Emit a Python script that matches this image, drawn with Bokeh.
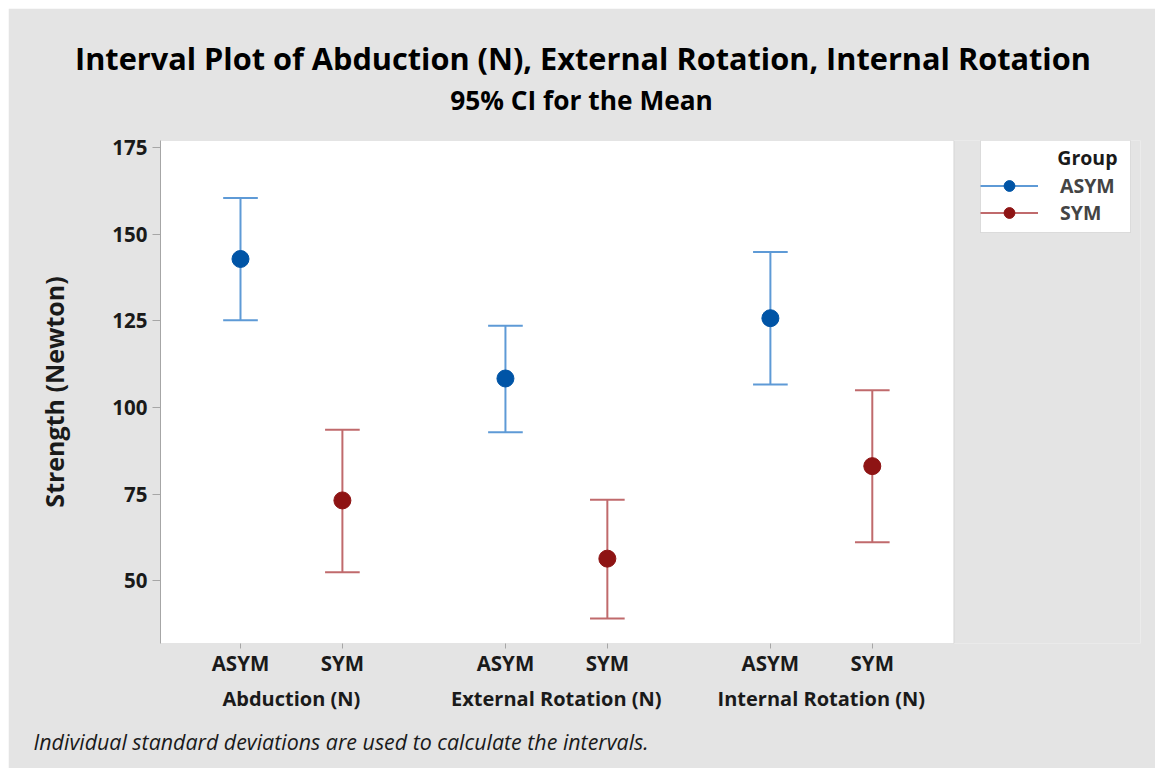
from bokeh.plotting import figure
from bokeh.models import (ColumnDataSource, FixedTicker, LinearAxis, Range1d, BoxAnnotation,
                          Title, Label, Legend, LegendItem, Spacer)
from bokeh.layouts import row, column
from bokeh.embed import file_html
from bokeh.resources import INLINE

# ---- data: 95% CI for the mean, per measure and group ----
measures = ["Abduction (N)", "External Rotation (N)", "Internal Rotation (N)"]
groups = ["ASYM", "SYM"]
asym_mean = [142.9, 108.4, 125.8]
asym_lower = [125.2, 92.9, 106.7]
asym_upper = [160.5, 123.6, 144.9]
sym_mean = [73.2, 56.4, 83.1]
sym_lower = [52.5, 39.1, 61.1]
sym_upper = [93.6, 73.4, 105.0]
y_ticks = [50, 75, 100, 125, 150, 175]

FONT = "Open Sans"
BG = "#e4e4e4"
GRID = "#a6a6a6"
INK = "#1a1a1a"

# x layout: two groups per measure, a wider gap between measures
STEP = 2.6
CAP = 0.17
X_MIN, X_MAX = -0.785, 7.0      # data area (white box)
X_END = 8.832                   # frame continues to the right to hold the legend
HEADER_X = -1.325               # "Group" row header, left of the data area
SUB_X = 3.347                   # centre of the subtitle
asym_x = [i * STEP for i in range(len(measures))]
sym_x = [i * STEP + 1 for i in range(len(measures))]
centers = [i * STEP + 0.5 for i in range(len(measures))]

W, H = 1147, 760
p = figure(width=W, height=H, x_range=Range1d(X_MIN, X_END), y_range=Range1d(31.9, 177.1),
           output_backend="svg", toolbar_location=None,
           min_border_left=152, min_border_right=15, min_border_top=132, min_border_bottom=125)
p.background_fill_color = BG
p.border_fill_color = BG
p.outline_line_color = None
p.xgrid.visible = False
p.ygrid.visible = False

# white data area with its outline
p.add_layout(BoxAnnotation(right=X_MAX, fill_color="white", fill_alpha=1,
                           line_color=GRID, line_width=1, level="underlay"))


def series(xs, lo, hi, mean, line_color, fill_color):
    src = ColumnDataSource(dict(x=xs, lo=lo, hi=hi, mean=mean,
                                x0=[v - CAP for v in xs], x1=[v + CAP for v in xs]))
    stem = p.segment(x0="x", y0="lo", x1="x", y1="hi", source=src,
                     line_color=line_color, line_width=2)
    p.segment(x0="x0", y0="lo", x1="x1", y1="lo", source=src, line_color=line_color, line_width=2)
    p.segment(x0="x0", y0="hi", x1="x1", y1="hi", source=src, line_color=line_color, line_width=2)
    dot = p.scatter(x="x", y="mean", source=src, size=17, marker="circle",
                    fill_color=fill_color, line_color=fill_color)
    return stem, dot


a_stem, a_dot = series(asym_x, asym_lower, asym_upper, asym_mean, "#5e9ad6", "#0054a6")
s_stem, s_dot = series(sym_x, sym_lower, sym_upper, sym_mean, "#c06a6c", "#8e1414")


def plain_axis(axis, size="20.5px", standoff=0):
    axis.major_label_text_font = FONT
    axis.major_label_text_font_style = "bold"
    axis.major_label_text_font_size = size
    axis.major_label_text_color = INK
    axis.minor_tick_line_color = None
    axis.axis_line_color = None
    axis.major_tick_line_color = None
    axis.major_tick_out = 0
    axis.major_tick_in = 0
    axis.major_label_standoff = standoff


# x ticks only (labels go on the next axis, which also carries the row header)
tax = p.xaxis[0]
tax.ticker = FixedTicker(ticks=asym_x + sym_x)
tax.major_label_overrides = {v: "" for v in asym_x + sym_x}
tax.major_label_text_font_size = "1px"
tax.major_label_standoff = 0
tax.minor_tick_line_color = None
tax.major_tick_out = 5
tax.major_tick_in = 0
tax.major_tick_line_color = GRID
tax.axis_line_color = None

lax = LinearAxis(ticker=FixedTicker(ticks=[HEADER_X] + asym_x + sym_x),
                 bounds=(HEADER_X - 0.2, X_MAX),
                 major_label_overrides={HEADER_X: "Group",
                                        **{v: groups[0] for v in asym_x},
                                        **{v: groups[1] for v in sym_x}})
plain_axis(lax)
p.add_layout(lax, "below")

gax = LinearAxis(ticker=FixedTicker(ticks=centers),
                 major_label_overrides={c: m for c, m in zip(centers, measures)})
plain_axis(gax, size="20px", standoff=5)
p.add_layout(gax, "below")

yax = p.yaxis[0]
yax.ticker = FixedTicker(ticks=y_ticks)
yax.major_label_text_font = FONT
yax.major_label_text_font_style = "bold"
yax.major_label_text_font_size = "20.5px"
yax.major_label_text_color = INK
yax.minor_tick_line_color = None
yax.major_tick_out = 8
yax.major_tick_in = 0
yax.major_tick_line_color = GRID
yax.axis_line_color = GRID
yax.major_label_standoff = 5
yax.axis_label = "Strength (Newton)"
yax.axis_label_text_font = FONT
yax.axis_label_text_font_style = "bold"
yax.axis_label_text_font_size = "25px"
yax.axis_label_text_color = INK
yax.axis_label_standoff = 38

# ---- titles and footnote ----
sax = LinearAxis(ticker=FixedTicker(ticks=[SUB_X]),
                 major_label_overrides={SUB_X: "95% CI for the Mean"})
plain_axis(sax, size="26.3px", standoff=23)
sax.major_label_text_color = "black"
p.add_layout(sax, "above")

p.add_layout(Title(text="Interval Plot of Abduction (N), External Rotation, Internal Rotation",
                   align="left", offset=-85.5, standoff=0, text_font=FONT,
                   text_font_style="bold", text_font_size="30.7px", text_color="black"), "above")
p.add_layout(Title(text="Individual standard deviations are used to calculate the intervals.",
                   align="left", offset=-127, standoff=20, text_font=FONT,
                   text_font_style="italic", text_font_size="21.4px", text_color=INK), "below")

# ---- legend (frame-relative screen units) ----
LEG_L, LEG_R, LEG_B, LEG_T = 820, 970, 411, 503
p.add_layout(BoxAnnotation(left=LEG_L, right=LEG_R, bottom=LEG_B, top=LEG_T,
                           left_units="screen", right_units="screen",
                           bottom_units="screen", top_units="screen",
                           fill_color="white", fill_alpha=1, line_color=GRID, line_width=1,
                           level="underlay"))
p.add_layout(Label(x=LEG_R - 13, y=LEG_T - 17, x_units="screen", y_units="screen",
                   text="Group", text_align="right", text_baseline="middle", text_font=FONT,
                   text_font_style="bold", text_font_size="19.5px", text_color=INK))

legend = Legend(items=[LegendItem(label=groups[0], renderers=[a_stem, a_dot]),
                       LegendItem(label=groups[1], renderers=[s_stem, s_dot])],
                location=(LEG_L, 417.5), orientation="vertical", margin=0)
legend.label_text_font = FONT
legend.label_text_font_style = "bold"
legend.label_text_font_size = "19.5px"
legend.glyph_width = 58
legend.glyph_height = 27
legend.label_standoff = 22
legend.spacing = 0
legend.padding = 9
legend.border_line_color = None
legend.background_fill_alpha = 0
p.add_layout(legend, "center")

page = row(Spacer(width=8), column(Spacer(height=8), p))
open("out.html", "w").write(file_html(page, INLINE))
